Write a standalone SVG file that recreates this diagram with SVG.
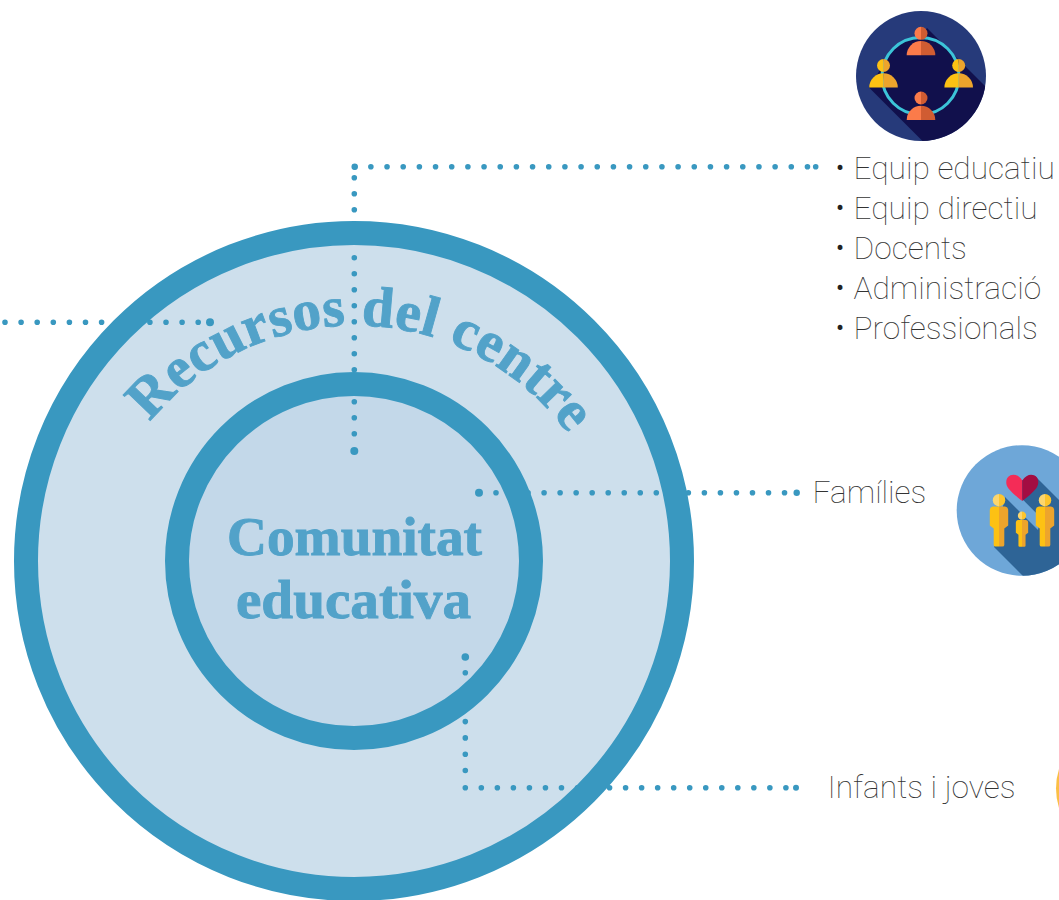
<svg xmlns="http://www.w3.org/2000/svg" xmlns:xlink="http://www.w3.org/1999/xlink" width="1059" height="900" viewBox="0 0 1059 900">
<style>
.dots{fill:none;stroke:#3998c0;stroke-width:5.6;stroke-linecap:round}
.end{fill:#3998c0}
.ring{fill:none;stroke:#3998c0;stroke-width:24}
.title{font-family:"Liberation Serif",serif;font-weight:700;fill:#52a2c9;stroke:#52a2c9;stroke-width:.9;font-size:54px}
.arc{font-size:57px}
.label{font-family:Roboto,"Liberation Sans",sans-serif;font-weight:100;font-size:31.7px;fill:#333}
.bullet{font-family:Roboto,"Liberation Sans",sans-serif;font-size:24px;fill:#222}
</style>
<defs>
<clipPath id="clipTeam"><circle cx="921" cy="76" r="65"/></clipPath>
<clipPath id="clipFam"><circle cx="1022" cy="510.5" r="65.3"/></clipPath>
<path id="halfL" d="M0,0H-14.3A14.3,14.3 0 0 1 0,-14.3Z"/>
<path id="halfR" d="M0,0H14.3A14.3,14.3 0 0 0 0,-14.3Z"/>
<g id="personO">
<use xlink:href="#halfL" fill="#fb7b4a"/><use xlink:href="#halfR" fill="#d05c32"/>
<path d="M0,-28.5a6.5,6.5 0 0 0 0,13z" fill="#fb7b4a"/><path d="M0,-28.5a6.5,6.5 0 0 1 0,13z" fill="#d05c32"/>
</g>
<g id="personY">
<use xlink:href="#halfL" fill="#fdc113"/><use xlink:href="#halfR" fill="#eda42c"/>
<path d="M0,-28.5a6.5,6.5 0 0 0 0,13z" fill="#fdc113"/><path d="M0,-28.5a6.5,6.5 0 0 1 0,13z" fill="#eda42c"/>
</g>
<g id="figure">
<path d="M0,-40H-6Q-9.2,-39.5 -9.2,-36V-21L-5.3,-18V-1.5Q-5.3,0 -3.5,0H0Z" fill="#fdc113"/>
<path d="M0,-40H6Q9.2,-39.5 9.2,-36V-21L5.3,-18V-1.5Q5.3,0 3.5,0H0Z" fill="#eda42c"/>
<path d="M0,-52.5a6.2,6.2 0 0 0 0,12.4z" fill="#fcd66e"/><path d="M0,-52.5a6.2,6.2 0 0 1 0,12.4z" fill="#fdc52c"/>
</g>
<path id="arcTitle" d="M150,422A265,265 0 0 1 567,432"/>
</defs>

<g id="node-recursos-fill"><circle cx="354" cy="561" r="328" fill="#cddfec"/></g>
<g id="node-comunitat-fill"><circle cx="354" cy="561" r="177" fill="#c3d8e9"/></g>

<g id="connectors">
<path class="dots" stroke-dasharray="0 16.17" d="M354.7,166.7H808"/>
<circle class="end" cx="815.7" cy="166.7" r="2.8"/>
<circle class="end" cx="354.7" cy="166.7" r="3.2"/>
<path class="dots" stroke-dasharray="0 16" d="M354.3,177.7V434.5"/>
<circle class="end" cx="354.3" cy="451" r="4"/>
<path class="dots" stroke-dasharray="0 16.1" d="M5,322.3H199"/>
<circle class="end" cx="210" cy="322.3" r="4"/>
<path class="dots" stroke-dasharray="0 16.03" d="M496,492.7H786"/>
<circle class="end" cx="479" cy="492.7" r="4"/>
<circle class="end" cx="796.7" cy="492.7" r="3.2"/>
<path class="dots" stroke-dasharray="0 16.3" d="M465.3,672.7V772"/>
<circle class="end" cx="465.3" cy="657" r="3.8"/>
<path class="dots" stroke-dasharray="0 16.03" d="M465.3,787.7H786"/>
<circle class="end" cx="796" cy="787.7" r="3"/>
</g>

<g id="node-recursos">
<circle class="ring" cx="354" cy="561" r="328"/>
<text class="title arc" letter-spacing=".45"><textPath xlink:href="#arcTitle">Recursos del centre</textPath></text>
</g>
<g id="node-comunitat">
<circle class="ring" cx="354" cy="561" r="177"/>
<text class="title" x="354.5" y="555" text-anchor="middle" textLength="255" lengthAdjust="spacingAndGlyphs">Comunitat</text>
<text class="title" x="353.5" y="618" text-anchor="middle" textLength="235" lengthAdjust="spacingAndGlyphs">educativa</text>
</g>

<g id="node-equip">
<circle cx="921" cy="76" r="65" fill="#263a7a"/>
<path clip-path="url(#clipTeam)" d="M927,28L995,96V150H931.5L869,87.5L883,65A38.5,38.5 0 0 1 921,37Z" fill="#11104c"/>
<circle cx="920.5" cy="76" r="38.5" fill="none" stroke="#3cc4d8" stroke-width="3"/>
<use xlink:href="#personO" x="921" y="55.3"/>
<use xlink:href="#personO" x="921" y="120"/>
<use xlink:href="#personY" x="883.5" y="87.5"/>
<use xlink:href="#personY" x="958.7" y="87.5"/>
<g class="label">
<text x="853.5" y="179">Equip educatiu</text>
<text x="853.5" y="219">Equip directiu</text>
<text x="853.5" y="259">Docents</text>
<text x="853.5" y="299">Administració</text>
<text x="853.5" y="339">Professionals</text>
</g>
<g class="bullet">
<text x="836" y="176">•</text>
<text x="836" y="216">•</text>
<text x="836" y="256">•</text>
<text x="836" y="296">•</text>
<text x="836" y="336">•</text>
</g>
</g>

<g id="node-families">
<text class="label" x="812.5" y="503">Famílies</text>
<circle cx="1022" cy="510.5" r="65.3" fill="#6ea7d8"/>
<g clip-path="url(#clipFam)" fill="#2e6496">
<path d="M1035,476L1100,541L1080,557L1008.3,485Z"/>
<path d="M1005,497L1038,530L1045,494L1110,559V640H1087L994,547L1000,520Z"/>
</g>
<path d="M1022.3,480.5C1019,475 1014,473.7 1010.5,475.3C1005.5,477.5 1005,484 1008.5,488.5C1012,493 1018,497.5 1022.3,501Z" fill="#f42c57"/>
<path d="M1022.3,480.5C1025.6,475 1030.6,473.7 1034.1,475.3C1039.1,477.5 1039.6,484 1036.1,488.5C1032.6,493 1026.6,497.5 1022.3,501Z" fill="#a30d42"/>
<use xlink:href="#figure" x="999" y="546.5"/>
<use xlink:href="#figure" x="1045" y="546.5"/>
<use xlink:href="#figure" transform="translate(1022,546.7) scale(.67)"/>
</g>

<g id="node-infants">
<text class="label" x="827.5" y="798">Infants i joves</text>
<circle cx="1121" cy="788.5" r="65" fill="#fbbf45"/>
</g>
</svg>
